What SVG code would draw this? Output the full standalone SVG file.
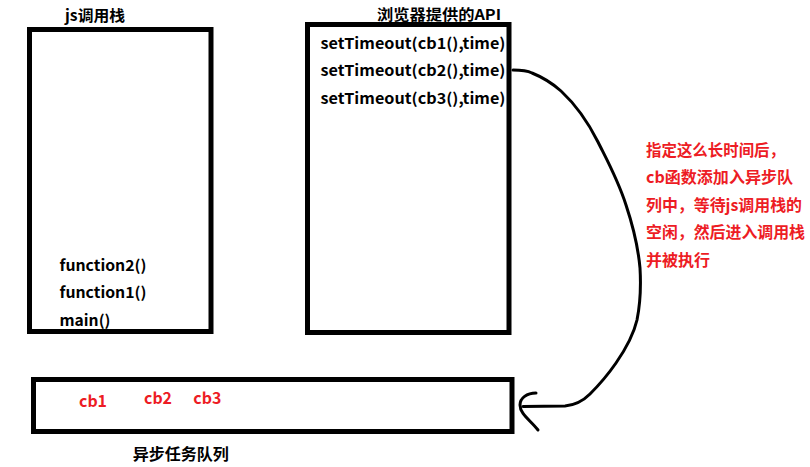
<svg xmlns="http://www.w3.org/2000/svg" width="810" height="467" viewBox="0 0 810 467">
<style>
.box{fill:none;stroke:#000;stroke-width:5}
.t{font-family:"Noto Sans CJK SC","Open Sans",sans-serif;font-weight:bold;fill:#000}
.r{font-family:"Noto Sans CJK SC","Open Sans",sans-serif;font-weight:bold;fill:#ED1C24}
.ln{fill:none;stroke:#000;stroke-width:3;stroke-linecap:round;stroke-linejoin:round}
</style>
<rect width="810" height="467" fill="#fff"/>
<g id="js-stack">
<rect class="box" x="29.5" y="29.5" width="181.5" height="302"/>
<text class="t" x="65" y="20.5" font-size="15" textLength="60" lengthAdjust="spacingAndGlyphs">js调用栈</text>
<text class="t" x="59.5" y="270.5" font-size="15" textLength="87" lengthAdjust="spacingAndGlyphs">function2()</text>
<text class="t" x="59.5" y="297.5" font-size="15" textLength="87" lengthAdjust="spacingAndGlyphs">function1()</text>
<text class="t" x="59.5" y="326" font-size="15" textLength="51" lengthAdjust="spacingAndGlyphs">main()</text>
</g>
<g id="browser-api">
<rect class="box" x="307.5" y="24.5" width="201.5" height="308"/>
<text class="t" x="377" y="19.5" font-size="15" textLength="124" lengthAdjust="spacingAndGlyphs">浏览器提供的API</text>
<text class="t" x="320.5" y="48.5" font-size="15" textLength="185" lengthAdjust="spacingAndGlyphs">setTimeout(cb1(),time)</text>
<text class="t" x="320.5" y="76" font-size="15" textLength="185" lengthAdjust="spacingAndGlyphs">setTimeout(cb2(),time)</text>
<text class="t" x="320.5" y="103.5" font-size="15" textLength="185" lengthAdjust="spacingAndGlyphs">setTimeout(cb3(),time)</text>
</g>
<g id="task-queue">
<rect class="box" x="33.5" y="379.5" width="478.5" height="52"/>
<text class="r" x="79" y="406.5" font-size="16" textLength="28" lengthAdjust="spacingAndGlyphs">cb1</text>
<text class="r" x="144" y="404" font-size="16" textLength="28" lengthAdjust="spacingAndGlyphs">cb2</text>
<text class="r" x="193.3" y="404" font-size="16" textLength="28" lengthAdjust="spacingAndGlyphs">cb3</text>
<text class="t" x="132.7" y="459.5" font-size="16" textLength="96" lengthAdjust="spacingAndGlyphs">异步任务队列</text>
</g>
<g id="note">
<text class="r" x="646" y="155.5" font-size="16" textLength="139" lengthAdjust="spacingAndGlyphs">指定这么长时间后，</text>
<text class="r" x="646" y="183" font-size="16" textLength="147" lengthAdjust="spacingAndGlyphs">cb函数添加入异步队</text>
<text class="r" x="646" y="210.5" font-size="16" textLength="156" lengthAdjust="spacingAndGlyphs">列中，等待js调用栈的</text>
<text class="r" x="646" y="238" font-size="16" textLength="159" lengthAdjust="spacingAndGlyphs">空闲，然后进入调用栈</text>
<text class="r" x="646" y="265.5" font-size="16" textLength="64" lengthAdjust="spacingAndGlyphs">并被执行</text>
</g>
<g id="connectors">
<path class="ln" d="M513,70 C522,70 528,71 532,73 C542,77 552,83 561,91 C575,104 588,122 598,142 C608,162 618,180 626,205 C633,226 638,246 640,268 C641,285 640,305 637,320 C633,337 625,350 616,363 C607,376 598,386 590,394 C583,401 576,405 565,406 L523,406.5"/>
<path class="ln" d="M536,393 C527,393 520,398 520,405 C520,414 530,420 538,430"/>
</g>
</svg>
